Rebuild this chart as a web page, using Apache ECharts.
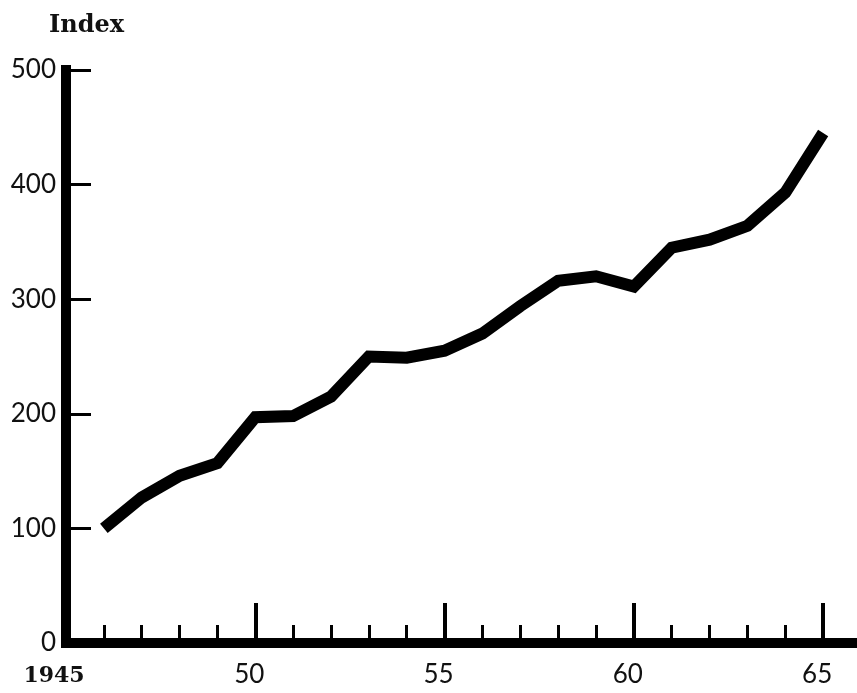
<!DOCTYPE html>
<html>
<head>
<meta charset="utf-8">
<script src="https://cdn.jsdelivr.net/npm/echarts@6/dist/echarts.min.js"></script>
<style>
  html, body { margin: 0; padding: 0; background: #fff; }
  #chart { width: 857px; height: 693px; }
</style>
</head>
<body>
<div id="chart"></div>
<script>
// Data
const years = [1946, 1947, 1948, 1949, 1950, 1951, 1952, 1953, 1954, 1955,
               1956, 1957, 1958, 1959, 1960, 1961, 1962, 1963, 1964, 1965];
const indexValues = [100, 127, 146, 157, 197, 198, 215, 250, 249, 255,
                     270, 294, 316, 320, 311, 345, 352, 364, 393, 445];
const yTicks = [0, 100, 200, 300, 400, 500];
const xLabelYears = [1945, 1950, 1955, 1960, 1965];
const yAxisTitle = 'Index';

const seriesData = years.map((y, i) => [y, indexValues[i]]);

const chart = echarts.init(document.getElementById('chart'), null, { renderer: 'canvas' });

const sansFont = 'Lato';
const serifFont = 'DejaVu Serif';

chart.setOption({
  animation: false,
  backgroundColor: '#ffffff',
  title: {
    text: yAxisTitle,
    left: 44,
    top: 9,
    textStyle: { fontFamily: serifFont, fontWeight: 'bold', fontSize: 24, color: '#111' }
  },
  grid: { left: 66, top: 70, width: 795, bottom: 50, containLabel: false, outerBoundsMode: 'none' },
  xAxis: [
    {
      type: 'value',
      min: 1945,
      max: 1966,
      interval: 1,
      position: 'bottom',
      axisLine: { show: true, onZero: true, lineStyle: { color: '#000', width: 10, cap: 'square' } },
      axisTick: { show: true, inside: true, length: 18, lineStyle: { color: '#000', width: 3 } },
      axisLabel: { show: false },
      splitLine: { show: false }
    },
    {
      type: 'value',
      min: 1945,
      max: 1966,
      interval: 5,
      position: 'bottom',
      offset: 0,
      axisLine: { show: false, onZero: true },
      axisTick: { show: true, inside: true, length: 40, lineStyle: { color: '#000', width: 4 } },
      axisLabel: {
        show: true,
        margin: 19,
        fontFamily: sansFont,
        fontSize: 26,
        color: '#111',
        padding: [0, 12, 0, 0],
        formatter: function (v) {
          if (v === 1945) return '{a|1945}';
          if (xLabelYears.indexOf(v) >= 0) return String(v).slice(2);
          return '';
        },
        rich: {
          a: { fontFamily: serifFont, fontWeight: 'bold', fontSize: 22, color: '#111', padding: [3, 12, 0, 0] }
        }
      },
      splitLine: { show: false }
    }
  ],
  yAxis: {
    type: 'value',
    min: 0,
    max: 500,
    interval: 100,
    axisLine: { show: true, lineStyle: { color: '#000', width: 10, cap: 'square' } },
    axisTick: { show: true, inside: true, length: 25, lineStyle: { color: '#000', width: 3 } },
    axisLabel: {
      margin: 10,
      fontFamily: sansFont,
      fontSize: 26,
      color: '#111',
      formatter: function (v) { return yTicks.indexOf(v) >= 0 ? String(v) : ''; }
    },
    splitLine: { show: false }
  },
  series: [
    {
      type: 'line',
      xAxisIndex: 0,
      data: seriesData,
      symbol: 'none',
      lineStyle: { color: '#000', width: 12, join: 'miter', cap: 'butt' }
    }
  ]
});
</script>
</body>
</html>
